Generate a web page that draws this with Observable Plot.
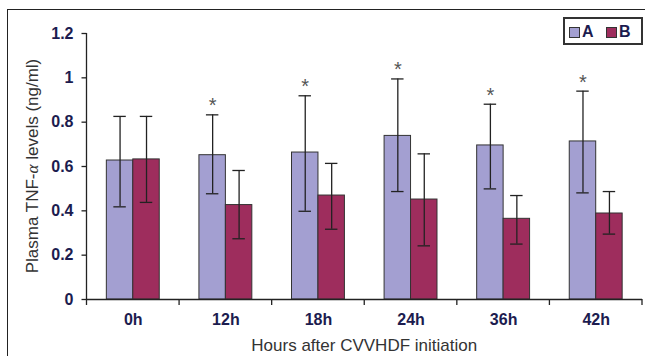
<!DOCTYPE html>
<html><head><meta charset="utf-8">
<script src="https://cdn.jsdelivr.net/npm/d3@7"></script>
<script src="https://cdn.jsdelivr.net/npm/@observablehq/plot@0.6"></script>
<style>
body{margin:0;background:#fff;overflow:hidden;font-family:"Liberation Sans",Arial,sans-serif}
#wrap{position:relative;width:645px;height:356px;overflow:hidden}
#frame{position:absolute;left:7px;top:9px;width:700px;height:400px;border:1.5px solid #222;box-sizing:border-box}
#chart{position:absolute;left:0;top:0}
#legend{position:absolute;left:563px;top:17px;width:80px;height:28px;border:2px solid #333;box-sizing:border-box;background:#fff}
.sw{position:absolute;top:8px;width:11px;height:11px;border:1px solid #333;box-sizing:border-box}
.lt{position:absolute;top:4px;font-weight:bold;font-size:16px;color:#1c1c4f;line-height:18px}
</style></head>
<body>
<div id="wrap">
  <div id="frame"></div>
  <div id="chart"></div>
  <div id="legend"></div>
</div>
<script>
const hours = ["0h","12h","18h","24h","36h","42h"];
const seriesNames = ["A","B"];
const seriesColors = ["#a39fd1","#9e2d5d"];
const meanA = [0.627,0.651,0.663,0.738,0.695,0.713];
const hiA   = [0.826,0.833,0.919,0.995,0.881,0.940];
const loA   = [0.418,0.477,0.398,0.487,0.499,0.481];
const meanB = [0.632,0.426,0.469,0.451,0.364,0.388];
const hiB   = [0.826,0.582,0.614,0.657,0.469,0.487];
const loB   = [0.438,0.274,0.317,0.242,0.250,0.295];
const significantA = [false,true,true,true,true,true];
const yTicks = [0,0.2,0.4,0.6,0.8,1,1.2];
const yLabelMain = "Plasma TNF-";
const yLabelGreek = "α";
const yLabelRest = " levels (ng/ml)";
const xTitle = "Hours after CVVHDF initiation";

const data = [];
hours.forEach((h,i)=>{
  data.push({hour:h, series:"A", mean:meanA[i], hi:hiA[i], lo:loA[i], sig:significantA[i]});
  data.push({hour:h, series:"B", mean:meanB[i], hi:hiB[i], lo:loB[i], sig:false});
});
const stars = data.filter(d=>d.sig);
const ink = "#1c1c4f";

const plot = Plot.plot({
  width:645, height:356,
  marginLeft:86.5, marginRight:3, marginTop:33, marginBottom:57,
  style:{fontFamily:"Liberation Sans, Arial, sans-serif", background:"transparent", overflow:"visible"},
  fx:{domain:hours, padding:0, round:false, label:null, axis:null},
  x:{domain:seriesNames, paddingInner:0, paddingOuter:0.75, round:false, axis:null},
  y:{domain:[0,1.2], axis:null},
  color:{domain:seriesNames, range:seriesColors},
  marks:[
    Plot.axisY({ticks:yTicks, tickSize:5, tickPadding:8.5, tickFormat:d=>String(d),
      fontSize:16, fontWeight:"bold", fill:ink, stroke:"#222", strokeWidth:1.3, label:null}),
    Plot.axisFx({anchor:"bottom", tickSize:0, tickPadding:14, fontSize:16, fontWeight:"bold", fill:ink, label:null}),
    Plot.barY(data, {fx:"hour", x:"series", y:"mean", fill:"series", stroke:"#333", strokeWidth:1}),
    Plot.ruleX(data, {fx:"hour", x:"series", y1:"lo", y2:"hi", stroke:"#222", strokeWidth:1.3}),
    Plot.tickY(data, {fx:"hour", x:"series", y:"hi", inset:7, stroke:"#222", strokeWidth:1.3}),
    Plot.tickY(data, {fx:"hour", x:"series", y:"lo", inset:7, stroke:"#222", strokeWidth:1.3}),
    Plot.ruleY([0], {stroke:"#222", strokeWidth:1.3}),
    Plot.text(stars, {fx:"hour", x:"series", y:"hi", text:()=>"*", dy:-9, fontSize:20, fill:"#555"})
  ]
});
document.getElementById("chart").appendChild(plot);

// axis line, group boundary ticks, titles (from the scales)
const svg = d3.select(plot);
const ys = plot.scale("y");
const fxs = plot.scale("fx");
const y0 = ys.apply(0), yTop = ys.apply(1.2);
const xs = hours.map(h=>fxs.apply(h));
const left = xs[0], right = xs[xs.length-1] + fxs.bandwidth;
const g = svg.append("g").attr("stroke","#222").attr("stroke-width",1.3);
g.append("line").attr("x1",left).attr("x2",left).attr("y1",yTop).attr("y2",y0+6);
[...xs.slice(1), right].forEach(b=>{
  g.append("line").attr("x1",b).attr("x2",b).attr("y1",y0).attr("y2",y0+6);
});
const yl = svg.append("text")
  .attr("transform",`translate(32,${(y0+yTop)/2}) rotate(-90)`)
  .attr("text-anchor","middle").attr("dy","0.35em")
  .attr("font-size",17).attr("fill","#333");
yl.append("tspan").text(yLabelMain);
yl.append("tspan").text(yLabelGreek).attr("font-style","italic").attr("font-family","Liberation Serif, serif");
yl.append("tspan").text(yLabelRest);
svg.append("text").attr("x",(left+right)/2).attr("y",351)
  .attr("text-anchor","middle").attr("font-size",17).attr("fill","#333").text(xTitle);

// legend
const lg = document.getElementById("legend");
const swx = [4, 41], tx = [17, 54];
seriesNames.forEach((s,i)=>{
  const sw = document.createElement("div"); sw.className="sw";
  sw.style.left = swx[i]+"px"; sw.style.background = seriesColors[i]; lg.appendChild(sw);
  const t = document.createElement("div"); t.className="lt"; t.style.left = tx[i]+"px";
  t.textContent = s; lg.appendChild(t);
});
</script>
</body></html>
